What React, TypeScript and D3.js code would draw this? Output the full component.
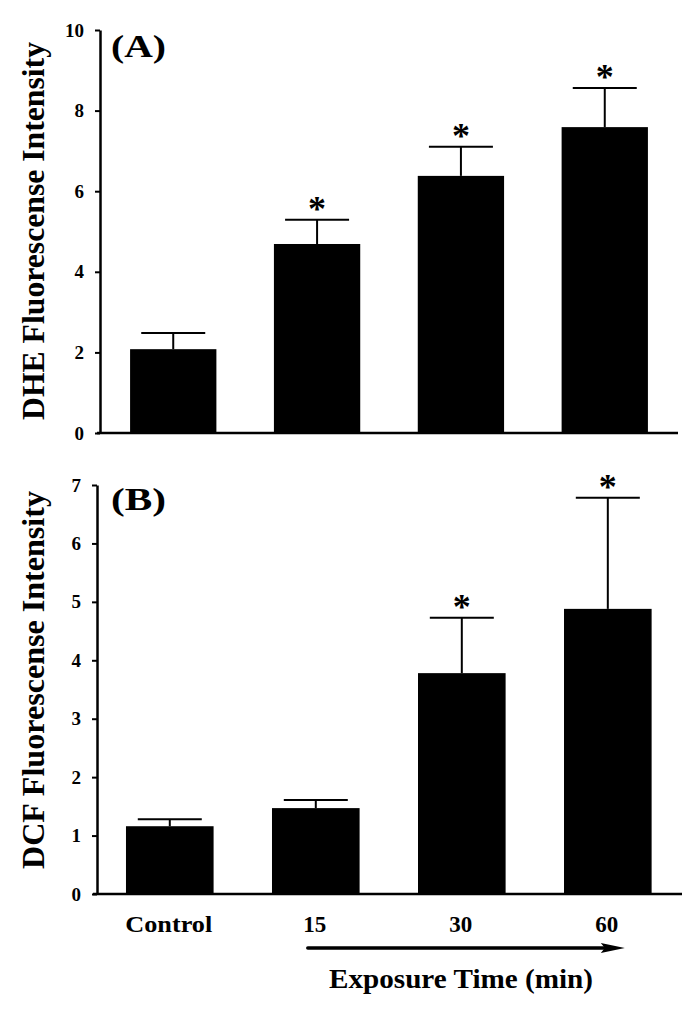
import React, { useEffect, useRef } from "react";
import * as d3 from "d3";

const categories = ["Control", "15", "30", "60"];
const dheMean = [2.08, 4.69, 6.38, 7.59];
const dheErr = [0.4, 0.6, 0.72, 0.97];
const dheSig = [false, true, true, true];
const dcfMean = [1.16, 1.47, 3.78, 4.88];
const dcfErr = [0.12, 0.14, 0.95, 1.9];
const dcfSig = [false, false, true, true];
const dheTicks = [0, 2, 4, 6, 8, 10];
const dcfTicks = [0, 1, 2, 3, 4, 5, 6, 7];

const FONT = "'Liberation Serif', 'Times New Roman', serif";

type Panel = {
  mean: number[];
  err: number[];
  sig: boolean[];
  ticks: number[];
  ymax: number;
  yRange: [number, number];
  xRange: [number, number];
  axisX: [number, number];
  axisLeft: number;
  label: string;
  labelCenter: number;
  tag: string;
  tagY: number;
};

export default function App() {
  const ref = useRef<SVGSVGElement | null>(null);

  useEffect(() => {
    const svg = d3.select(ref.current);
    svg.selectAll("*").remove();

    const panels: Panel[] = [
      {
        mean: dheMean, err: dheErr, sig: dheSig, ticks: dheTicks, ymax: 10,
        yRange: [433, 30], xRange: [97, 681], axisX: [97, 678], axisLeft: 100,
        label: "DHE Fluorescense Intensity", labelCenter: 231, tag: "(A)", tagY: 57,
      },
      {
        mean: dcfMean, err: dcfErr, sig: dcfSig, ticks: dcfTicks, ymax: 7,
        yRange: [894, 485], xRange: [92.4, 685.2], axisX: [93, 682], axisLeft: 97,
        label: "DCF Fluorescense Intensity", labelCenter: 680, tag: "(B)", tagY: 510,
      },
    ];

    let lastX: d3.ScaleBand<string> | null = null;
    let lastY0 = 0;

    panels.forEach((p) => {
      const x = d3.scaleBand<string>().domain(categories).range(p.xRange).paddingInner(0.4).paddingOuter(0.23);
      const y = d3.scaleLinear().domain([0, p.ymax]).range(p.yRange);
      const g = svg.append("g");

      g.selectAll("rect.bar")
        .data(categories)
        .join("rect")
        .attr("x", (c) => x(c)!)
        .attr("width", x.bandwidth())
        .attr("y", (c, i) => y(p.mean[i]))
        .attr("height", (c, i) => y(0) - y(p.mean[i]))
        .attr("fill", "#000");

      const eb = g.selectAll("g.err").data(categories).join("g");
      eb.append("line")
        .attr("x1", (c) => x(c)! + x.bandwidth() / 2)
        .attr("x2", (c) => x(c)! + x.bandwidth() / 2)
        .attr("y1", (c, i) => y(p.mean[i]))
        .attr("y2", (c, i) => y(p.mean[i] + p.err[i]))
        .attr("stroke", "#000").attr("stroke-width", 2);
      eb.append("line")
        .attr("x1", (c) => x(c)! + x.bandwidth() / 2 - 32)
        .attr("x2", (c) => x(c)! + x.bandwidth() / 2 + 32)
        .attr("y1", (c, i) => y(p.mean[i] + p.err[i]))
        .attr("y2", (c, i) => y(p.mean[i] + p.err[i]))
        .attr("stroke", "#000").attr("stroke-width", 2);

      g.selectAll("text.star")
        .data(categories.filter((c, i) => p.sig[i]))
        .join("text")
        .attr("x", (c) => x(c)! + x.bandwidth() / 2)
        .attr("y", (c) => {
          const i = categories.indexOf(c);
          return y(p.mean[i] + p.err[i]) + 1;
        })
        .attr("text-anchor", "middle")
        .attr("font-family", FONT)
        .attr("font-weight", "bold")
        .attr("font-size", 36)
        .text("*");

      g.append("line")
        .attr("x1", p.axisX[0]).attr("x2", p.axisX[1])
        .attr("y1", y(0)).attr("y2", y(0))
        .attr("stroke", "#000").attr("stroke-width", 2.5);

      const ax = g.append("g").attr("transform", `translate(${p.axisLeft},0)`)
        .call(
          d3.axisLeft(y)
            .tickValues(p.ticks)
            .tickFormat(d3.format("d"))
            .tickSize(5)
            .tickSizeOuter(0)
            .tickPadding(11)
        );
      ax.select(".domain").attr("stroke-width", 2.5);
      ax.selectAll(".tick line").attr("stroke-width", 2);
      ax.selectAll(".tick text")
        .attr("font-family", FONT)
        .attr("font-weight", "bold")
        .attr("font-size", 19)
        .attr("fill", "#000");

      g.append("text")
        .attr("transform", `translate(44,${p.labelCenter}) rotate(-90)`)
        .attr("text-anchor", "middle")
        .attr("font-family", FONT)
        .attr("font-weight", "bold")
        .attr("font-size", 32)
        .attr("textLength", 378)
        .attr("lengthAdjust", "spacingAndGlyphs")
        .text(p.label);

      g.append("text")
        .attr("x", 111)
        .attr("y", p.tagY)
        .attr("font-family", FONT)
        .attr("font-weight", "bold")
        .attr("font-size", 31)
        .attr("textLength", 55)
        .attr("lengthAdjust", "spacingAndGlyphs")
        .text(p.tag);

      lastX = x;
      lastY0 = y(0);
    });

    const x = lastX!;
    svg.append("g").selectAll("text")
      .data(categories)
      .join("text")
      .attr("x", (c) => x(c)! + x.bandwidth() / 2 - 1)
      .attr("y", lastY0 + 38)
      .attr("text-anchor", "middle")
      .attr("font-family", FONT)
      .attr("font-weight", "bold")
      .attr("font-size", 23)
      .each(function (c) {
        if (c === "Control") d3.select(this).attr("textLength", 87).attr("lengthAdjust", "spacingAndGlyphs");
      })
      .text((c) => c);

    const arrowY = 948;
    const x0 = x("15")! + x.bandwidth() / 2 - 8;
    const x1 = x("60")! + x.bandwidth() / 2 + 17;
    svg.append("line")
      .attr("x1", x0).attr("x2", x1 - 20)
      .attr("y1", arrowY).attr("y2", arrowY)
      .attr("stroke", "#000").attr("stroke-width", 3.5).attr("stroke-linecap", "round");
    svg.append("path")
      .attr("d", `M${x1 - 24},${arrowY - 5} L${x1},${arrowY} L${x1 - 24},${arrowY + 5} L${x1 - 20},${arrowY} Z`)
      .attr("fill", "#000");

    svg.append("text")
      .attr("x", 461)
      .attr("y", 988)
      .attr("text-anchor", "middle")
      .attr("font-family", FONT)
      .attr("font-weight", "bold")
      .attr("font-size", 27)
      .attr("textLength", 264)
      .attr("lengthAdjust", "spacingAndGlyphs")
      .text("Exposure Time (min)");
  }, []);

  return (
    <svg
      ref={ref}
      width={698}
      height={1009}
      style={{ position: "absolute", left: 0, top: 0, background: "#fff" }}
    />
  );
}
